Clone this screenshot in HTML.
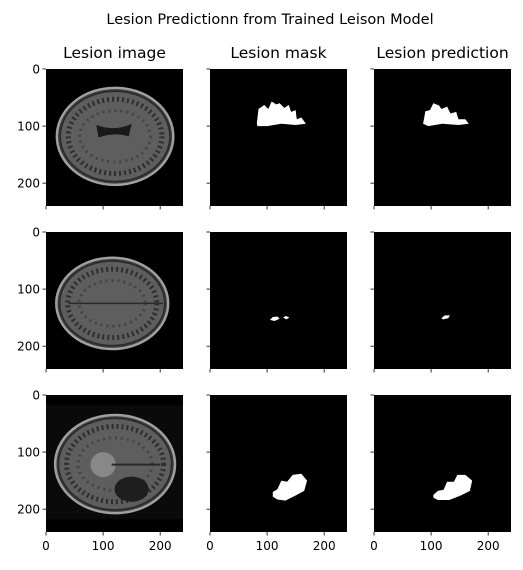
<!DOCTYPE html>
<html><head><meta charset="utf-8"><style>
body{margin:0;background:#fff;width:523px;height:565px;overflow:hidden}
text{font-family:"DejaVu Sans","Liberation Sans",sans-serif;fill:#000}
</style></head><body>
<svg id="fig" width="523" height="565" xmlns="http://www.w3.org/2000/svg">
<text x="270" y="24" text-anchor="middle" font-size="14.5">Lesion Predictionn from Trained Leison Model</text>
</svg>
<script>
const colTitles=["Lesion image","Lesion mask","Lesion prediction"];
const xTicks=[0,100,200];
const yTicks=[0,100,200];
const imgSize=240;
// brain ellipses: [cx, cy, rx, ry] in image coords
const brainRow0=[121,118,102,85];
const brainRow1=[116,125,98,80];
const brainRow2=[121,121,105,86];
// lesion polygons (image coords)
const maskRow0=[[82,95],[85,70],[95,63],[102,70],[108,57],[116,62],[122,60],[130,68],[138,63],[142,75],[150,72],[152,88],[160,85],[168,96],[150,98],[125,96],[100,100],[83,100]];
const predRow0=[[86,96],[90,74],[98,72],[104,60],[114,64],[118,70],[128,66],[134,78],[144,75],[148,88],[160,88],[166,96],[148,98],[120,96],[95,100]];
const maskRow1=[[105,154],[110,149],[118,148],[122,152],[113,156]];
const maskRow1b=[[128,150],[133,147],[139,150],[134,153]];
const predRow1=[[118,151],[124,146],[133,146],[130,151],[121,153]];
const maskRow2=[[110,170],[118,165],[125,150],[135,152],[145,140],[160,138],[170,150],[165,168],[150,176],[132,185],[118,183],[110,178]];
const predRow2=[[104,175],[112,168],[122,166],[128,152],[140,152],[146,140],[160,140],[172,150],[168,168],[152,176],[132,184],[112,184],[104,180]];
const masks=[[maskRow0],[maskRow1,maskRow1b],[maskRow2]];
const preds=[[predRow0],[predRow1],[predRow2]];
const brains=[brainRow0,brainRow1,brainRow2];

const svg=document.getElementById('fig');
const NS="http://www.w3.org/2000/svg";
const colX=[46,210,374], rowY=[69,232,395], W=137;
const sc=W/imgSize;
function mk(t,a,p){const e=document.createElementNS(NS,t);for(const k in a)e.setAttribute(k,a[k]);(p||svg).appendChild(e);return e;}
for(let c=0;c<3;c++){
  const t=mk('text',{x:colX[c]+W/2,y:58,'text-anchor':'middle','font-size':'15.5'});
  t.textContent=colTitles[c];
  
  
}
for(let r=0;r<3;r++)for(let c=0;c<3;c++){
  const x0=colX[c],y0=rowY[r];
  const X=v=>x0+v*sc, Y=v=>y0+v*sc;
  const g=mk('g',{});
  
  
  mk('rect',{x:x0,y:y0,width:W,height:W,fill:'#000'},g);
  if(c===0){
    const b=brains[r];
    if(r===2) mk('rect',{x:x0,y:Y(18),width:W,height:200*sc,fill:'#0a0a0a'},g);
    mk('ellipse',{cx:X(b[0]),cy:Y(b[1]),rx:b[2]*sc,ry:b[3]*sc,fill:'#3c3c3c',stroke:'#a0a0a0','stroke-width':2.5},g);
    mk('ellipse',{cx:X(b[0]),cy:Y(b[1]),rx:(b[2]-6)*sc,ry:(b[3]-6)*sc,fill:'#5e5e5e',stroke:'#2a2a2a','stroke-width':1.5},g);
    mk('ellipse',{cx:X(b[0]),cy:Y(b[1]),rx:(b[2]-20)*sc,ry:(b[3]-20)*sc,fill:'none',stroke:'#2e2e2e','stroke-width':5,'stroke-dasharray':'2 3'},g);
    mk('ellipse',{cx:X(b[0]),cy:Y(b[1]),rx:(b[2]-40)*sc,ry:(b[3]-40)*sc,fill:'none',stroke:'#444','stroke-width':3,'stroke-dasharray':'2 4'},g);
    if(r===0){mk('path',{d:`M${X(88)},${Y(98)} Q${X(121)},${Y(110)} ${X(150)},${Y(96)} L${X(145)},${Y(118)} Q${X(121)},${Y(110)} ${X(92)},${Y(120)}Z`,fill:'#1a1a1a'},g);}
    if(r===1){mk('path',{d:`M${X(40)},${Y(125)} L${X(205)},${Y(125)}`,stroke:'#2a2a2a','stroke-width':1.5},g);}
    if(r===2){mk('ellipse',{cx:X(150),cy:Y(165),rx:30*sc,ry:22*sc,fill:'#1e1e1e'},g);mk('ellipse',{cx:X(100),cy:Y(122),rx:22*sc,ry:22*sc,fill:'#888'},g);mk('path',{d:`M${X(115)},${Y(122)} L${X(200)},${Y(122)}`,stroke:'#2a2a2a','stroke-width':2},g);}
  } else {
    const polys=c===1?masks[r]:preds[r];
    polys.forEach(pl=>{
      const p=mk('polygon',{points:pl.map(q=>X(q[0])+','+Y(q[1])).join(' '),fill:'#fff'},g);
      
      
    });
  }
  yTicks.forEach(v=>{
    mk('line',{x1:x0-3.5,x2:x0,y1:Y(v),y2:Y(v),stroke:'#000','stroke-width':0.8},g);
    if(c===0){const t=mk('text',{x:x0-6,y:Y(v)+4.5,'text-anchor':'end','font-size':'12'},g);t.textContent=v;
      }
  });
  xTicks.forEach(v=>{
    mk('line',{x1:X(v),x2:X(v),y1:y0+W,y2:y0+W+3.5,stroke:'#000','stroke-width':0.8},g);
    if(r===2){const t=mk('text',{x:X(v),y:y0+W+18,'text-anchor':'middle','font-size':'12'},g);t.textContent=v;
      }
  });
}
</script>
</body></html>
